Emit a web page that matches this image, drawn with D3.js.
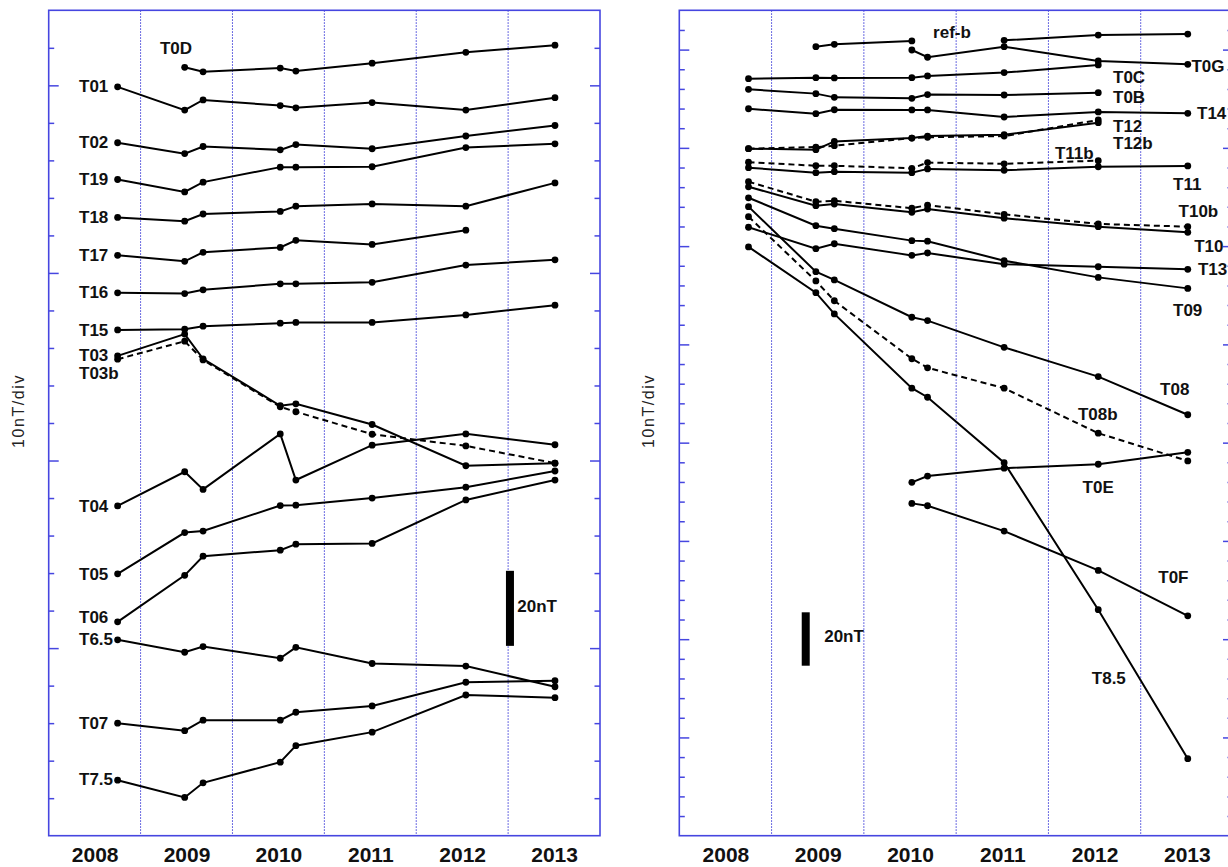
<!DOCTYPE html>
<html><head><meta charset="utf-8">
<script src="https://cdn.jsdelivr.net/npm/d3@7"></script>
<style>
body{margin:0;background:#fff;}
svg{display:block;}
text{font-family:"Liberation Sans", Arial, sans-serif;}
</style></head><body>
<svg id="chart" width="1228" height="867"></svg>
<script>
// ---------------- DATA ----------------
// survey epochs (decimal years) shared by every station series
const epochs = [2008.75, 2009.48, 2009.68, 2010.52, 2010.69, 2011.52, 2012.54, 2013.51];
const yearLabels = ["2008", "2009", "2010", "2011", "2012", "2013"];
const gridYears = [2009, 2010, 2011, 2012, 2013];

// left panel: offsets in divisions (10 nT/div); null = not observed
const T0D  = [null, 20.48, 20.36, 20.46, 20.38, 20.59, 20.88, 21.07];
const T01  = [19.96, 19.34, 19.61, 19.46, 19.40, 19.54, 19.34, 19.67];
const T02  = [18.47, 18.18, 18.37, 18.28, 18.42, 18.31, 18.65, 18.93];
const T19  = [17.49, 17.16, 17.42, 17.82, 17.82, 17.83, 18.34, 18.44];
const T18  = [16.48, 16.38, 16.57, 16.64, 16.78, 16.84, 16.78, 17.40];
const T17  = [15.47, 15.31, 15.55, 15.68, 15.87, 15.76, 16.14, null];
const T16  = [14.47, 14.45, 14.55, 14.71, 14.71, 14.75, 15.21, 15.35];
const T15  = [13.48, 13.50, 13.58, 13.66, 13.68, 13.68, 13.88, 14.14];
const T03  = [12.79, 13.37, 12.71, 11.46, 11.51, 10.96, 9.86, 9.93];
const T03b = [12.70, 13.18, 12.68, 11.43, 11.30, 10.70, 10.39, 9.93];
const T04  = [8.79, 9.70, 9.23, 10.71, 9.48, 10.41, 10.71, 10.42];
const T05  = [6.98, 8.08, 8.12, 8.80, 8.81, 9.00, 9.29, 9.72];
const T06  = [5.70, 6.94, 7.45, 7.61, 7.77, 7.79, 8.95, 9.48];
const T6_5 = [5.22, 4.89, 5.04, 4.73, 5.02, 4.59, 4.52, 3.97];
const T07  = [3.00, 2.80, 3.08, 3.08, 3.29, 3.46, 4.09, 4.13];
const T7_5 = [1.48, 1.02, 1.41, 1.96, 2.40, 2.76, 3.75, 3.68];

// right panel: offsets in divisions
const refB = [null, 40.15, 40.27, 40.44, null, 40.47, 40.74, 40.79];
const T0G  = [null, null, null, 39.98, 39.61, 40.15, 39.42, 39.25];
const T0C  = [38.52, 38.57, 38.56, 38.57, 38.66, 38.83, 39.22, null];
const T0B  = [37.98, 37.76, 37.57, 37.52, 37.71, 37.69, 37.81, null];
const T14  = [36.99, 36.74, 36.94, 36.93, 36.93, 36.57, 36.83, 36.76];
const T12  = [34.96, 34.91, 35.33, 35.50, 35.60, 35.67, 36.28, null];
const T12b = [34.96, 35.04, 35.11, 35.50, 35.54, 35.60, 36.42, null];
const T11b = [34.27, 34.09, 34.09, 33.96, 34.25, 34.19, 34.35, null];
const T11  = [33.99, 33.74, 33.79, 33.74, 33.93, 33.86, 34.04, 34.08];
const T10b = [33.28, 32.26, 32.31, 31.93, 32.09, 31.62, 31.13, 30.99];
const T10  = [33.02, 32.06, 32.14, 31.72, 31.89, 31.42, 30.99, 30.70];
const T09  = [32.46, 31.04, 30.89, 30.28, 30.25, 29.26, 28.41, 27.85];
const T13  = [30.96, 29.87, 30.12, 29.53, 29.65, 29.08, 28.95, 28.82];
const T08  = [32.01, 28.70, 28.28, 26.38, 26.21, 24.85, 23.36, 21.42];
const T08b = [31.50, 28.23, 27.22, 24.27, 23.81, 22.77, 20.48, 19.07];
const T8_5 = [29.96, 27.63, 26.55, 22.77, 22.31, 18.98, 11.50, 3.92];
const T0E  = [null, null, null, 17.98, 18.30, 18.70, 18.90, 19.51];
const T0F  = [null, null, null, 16.91, 16.79, 15.50, 13.50, 11.19];

// nT per division of each panel and the scale bar size
const nTPerDiv = [10, 7.36];
const scaleBarNT = 20;

// ---------------- SERIES / ANNOTATIONS ----------------
const leftSeries = [
  {v: T0D}, {v: T01}, {v: T02}, {v: T19}, {v: T18}, {v: T17}, {v: T16}, {v: T15},
  {v: T03b, dashed: true}, {v: T03}, {v: T04}, {v: T05}, {v: T06}, {v: T6_5}, {v: T07}, {v: T7_5}
];
const rightSeries = [
  {v: refB}, {v: T0G}, {v: T0C}, {v: T0B}, {v: T14}, {v: T12b, dashed: true}, {v: T12},
  {v: T11b, dashed: true}, {v: T11}, {v: T10b, dashed: true}, {v: T10}, {v: T09}, {v: T13},
  {v: T08b, dashed: true}, {v: T08}, {v: T8_5}, {v: T0E}, {v: T0F}
];
// label anchors in data units [name, year, div]
const leftLabels = [
  ["T0D", 2009.21, 20.97], ["T01", 2008.33, 19.96], ["T02", 2008.33, 18.47], ["T19", 2008.33, 17.49],
  ["T18", 2008.33, 16.48], ["T17", 2008.33, 15.47], ["T16", 2008.33, 14.47], ["T15", 2008.33, 13.46],
  ["T03", 2008.33, 12.79], ["T03b", 2008.33, 12.33], ["T04", 2008.33, 8.77], ["T05", 2008.33, 6.97],
  ["T06", 2008.33, 5.82], ["T6.5", 2008.33, 5.23], ["T07", 2008.33, 3.00], ["T7.5", 2008.33, 1.50]
];
const rightLabels = [
  ["ref-b", 2010.75, 40.88], ["T0G", 2013.55, 39.12], ["T0C", 2012.70, 38.59], ["T0B", 2012.70, 37.57],
  ["T14", 2013.61, 36.76], ["T12", 2012.70, 36.11], ["T12b", 2012.70, 35.20], ["T11b", 2012.07, 34.69],
  ["T11", 2013.35, 33.15], ["T10b", 2013.41, 31.74], ["T10", 2013.58, 29.97], ["T13", 2013.62, 28.79],
  ["T09", 2013.35, 26.71], ["T08", 2013.21, 22.72], ["T08b", 2012.32, 21.44], ["T0E", 2012.37, 17.73],
  ["T0F", 2013.19, 13.15], ["T8.5", 2012.47, 8.01]
];
// scale bar anchors [year, bottom div], label anchors [year, div]
const scaleBars = [[2013.02, 5.06], [2009.37, 8.65]];
const scaleBarLabels = [[2013.1, 6.10], [2009.57, 10.16]];

// ---------------- DRAW ----------------
const svg = d3.select("#chart");
const FRAME = "#4646e0";
const panels = [
  {x0: 48.7, x1: 600, yMax: 22, series: leftSeries, labels: leftLabels, ylab: 18.5},
  {x0: 679.3, x1: 1233, yMax: 42, series: rightSeries, labels: rightLabels, ylab: 648}
];
const yTop = 10.3, yBot = 835.7;

panels.forEach((p, pi) => {
  const x = d3.scaleLinear().domain([2008, 2014]).range([p.x0, p.x1]);
  const y = d3.scaleLinear().domain([0, p.yMax]).range([yBot, yTop]);
  const g = svg.append("g");

  // grid
  g.selectAll("line.grid").data(gridYears).join("line")
    .attr("x1", d => x(d)).attr("x2", d => x(d))
    .attr("y1", yTop).attr("y2", yBot)
    .attr("stroke", "#3c3cd8").attr("stroke-width", 1).attr("stroke-dasharray", "1.5,1.5");

  // ticks (inward, major every 5)
  const tickVals = d3.range(1, p.yMax);
  const la = g.append("g").attr("transform", `translate(${p.x0},0)`)
    .call(d3.axisRight(y).tickValues(tickVals).tickFormat(""));
  const ra = g.append("g").attr("transform", `translate(${p.x1},0)`)
    .call(d3.axisLeft(y).tickValues(tickVals).tickFormat(""));
  [la, ra].forEach((a, k) => {
    a.select(".domain").remove();
    a.selectAll(".tick line")
      .attr("x2", d => (k === 0 ? 1 : -1) * (d % 5 === 0 ? 10 : 5.5))
      .attr("stroke", FRAME).attr("stroke-width", 1.5);
  });

  // frame
  g.append("rect").attr("x", p.x0).attr("y", yTop)
    .attr("width", p.x1 - p.x0).attr("height", yBot - yTop)
    .attr("fill", "none").attr("stroke", FRAME).attr("stroke-width", 1.6);

  // x axis labels
  const xa = g.append("g").attr("transform", `translate(0,${yBot})`)
    .call(d3.axisBottom(x).tickValues(yearLabels.map(s => +s + 0.5))
      .tickFormat((d, i) => yearLabels[i]).tickSize(0).tickPadding(11));
  xa.select(".domain").remove();
  xa.selectAll("text").attr("font-size", 21).attr("font-weight", "bold")
    .attr("fill", "#111").attr("font-family", '"Liberation Sans", Arial, sans-serif');

  // y label
  g.append("text").attr("transform", `translate(${p.ylab},${(yTop + yBot) / 2 - 12}) rotate(-90)`)
    .attr("text-anchor", "middle").attr("dominant-baseline", "central")
    .attr("font-size", 16).attr("letter-spacing", 1.6).attr("fill", "#222")
    .text("10nT/div");

  // series
  const line = d3.line().defined(d => d != null)
    .x((d, i) => x(epochs[i])).y(d => y(d));
  p.series.forEach(s => {
    g.append("path").attr("d", line(s.v)).attr("fill", "none")
      .attr("stroke", "#000").attr("stroke-width", 2)
      .attr("stroke-dasharray", s.dashed ? "6,4" : null);
    g.selectAll(null).data(s.v.map((d, i) => [epochs[i], d]).filter(d => d[1] != null))
      .join("circle").attr("cx", d => x(d[0])).attr("cy", d => y(d[1]))
      .attr("r", 3.4).attr("fill", "#000");
  });

  // labels
  g.selectAll("text.lab").data(p.labels).join("text").attr("class", "lab")
    .attr("x", d => x(d[1])).attr("y", d => y(d[2]))
    .attr("dominant-baseline", "central").attr("font-size", 17).attr("font-weight", "bold")
    .attr("fill", "#111").text(d => d[0]);

  // scale bar
  const sb = scaleBars[pi];
  const barDiv = scaleBarNT / nTPerDiv[pi];
  g.append("rect").attr("x", x(sb[0]) - 4).attr("y", y(sb[1] + barDiv))
    .attr("width", 8).attr("height", y(sb[1]) - y(sb[1] + barDiv)).attr("fill", "#000");
  const sl = scaleBarLabels[pi];
  g.append("text").attr("x", x(sl[0])).attr("y", y(sl[1]))
    .attr("dominant-baseline", "central").attr("font-size", 17).attr("font-weight", "bold")
    .attr("fill", "#111").text(scaleBarNT + "nT");
});
</script>
</body></html>
